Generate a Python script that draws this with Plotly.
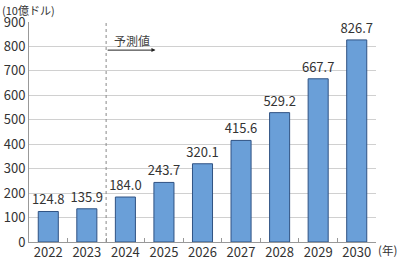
import plotly.graph_objects as go

years = ["2022", "2023", "2024", "2025", "2026", "2027", "2028", "2029", "2030"]
values = [124.8, 135.9, 184.0, 243.7, 320.1, 415.6, 529.2, 667.7, 826.7]
labels = ["124.8", "135.9", "184.0", "243.7", "320.1", "415.6", "529.2", "667.7", "826.7"]
y_ticks = [0, 100, 200, 300, 400, 500, 600, 700, 800, 900]

FONT = "Noto Sans CJK JP"
TXT = "#333333"

fig = go.Figure()
fig.add_trace(go.Bar(
    x=years, y=values, text=labels, textposition="outside", constraintext="none",
    textfont=dict(family=FONT, size=13, color=TXT),
    marker=dict(color="#6a9fd8", line=dict(color="#2f5283", width=1)),
    width=0.52, cliponaxis=False,
))

fig.update_layout(
    width=397, height=260,
    margin=dict(l=29, r=21, t=22, b=18, autoexpand=False),
    plot_bgcolor="white", paper_bgcolor="white",
    showlegend=False,
    font=dict(family=FONT, size=13, color=TXT),
    xaxis=dict(
        type="category", showgrid=False, showline=True, linecolor="#999999", linewidth=1,
        ticks="inside", ticklen=4, tickcolor="#999999", tickson="boundaries",
        tickangle=0, automargin=False, ticklabelstandoff=-2,
        tickfont=dict(family=FONT, size=13, color=TXT),
    ),
    yaxis=dict(
        range=[0, 900], tickvals=y_ticks, showgrid=True, gridcolor="#d0d0d0", gridwidth=1,
        showline=True, linecolor="#999999", linewidth=1, zeroline=False, automargin=False,
        ticks="", tickfont=dict(family=FONT, size=13, color=TXT),
    ),
)

# Forecast divider between 2023 and 2024
fig.add_shape(type="line", xref="x", yref="paper", x0=1.5, x1=1.5, y0=0, y1=1,
              line=dict(color="#888888", width=1, dash="dot"))
fig.add_annotation(xref="x", yref="y", x=2.78, y=785, ax=1.5, ay=785, axref="x", ayref="y",
                   showarrow=True, arrowhead=2, arrowsize=0.8, arrowwidth=1, arrowcolor="#222222", text="")
fig.add_annotation(xref="x", yref="y", x=1.65, y=826, text="予測値", showarrow=False,
                   xanchor="left", yanchor="middle", font=dict(family=FONT, size=12, color="#444444"))

fig.add_annotation(xref="paper", yref="paper", x=-0.085, y=1.1, text="(10億ドル)", showarrow=False,
                   xanchor="left", yanchor="top", font=dict(family=FONT, size=11, color=TXT))
fig.add_annotation(xref="paper", yref="paper", x=1.0, y=-0.036, text="(年)", showarrow=False,
                   xanchor="left", yanchor="middle", font=dict(family=FONT, size=11.5, color=TXT))

fig.write_html("out.html")
